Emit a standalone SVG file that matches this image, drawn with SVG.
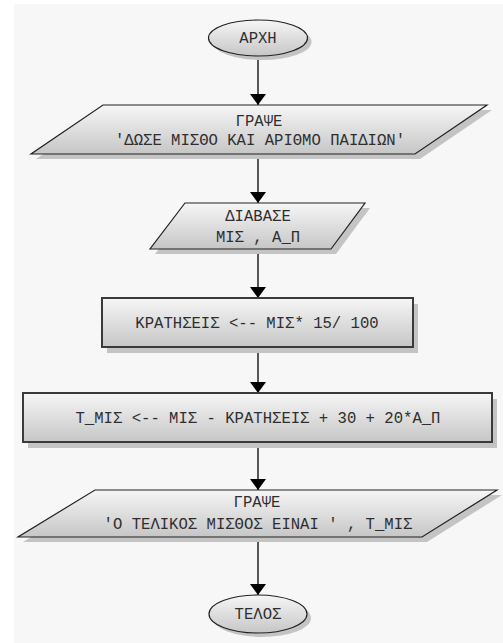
<svg xmlns="http://www.w3.org/2000/svg" width="503" height="643" viewBox="0 0 503 643">
<defs>
<linearGradient id="g" x1="0" y1="0" x2="0" y2="1">
<stop offset="0" stop-color="#f6f6f6"/>
<stop offset="1" stop-color="#c6c6c6"/>
</linearGradient>
<marker id="ah" markerUnits="userSpaceOnUse" markerWidth="16" markerHeight="12" viewBox="0 0 16 12" refX="8" refY="11" orient="0">
<path d="M0,0 L16,0 L8,11 Z" fill="#000"/>
</marker>
</defs>
<style>
.sh{fill:#c4c4c4}
.sh2{fill:#c4c4c4}
.box{fill:url(#g);stroke:#3a3a3a;stroke-width:2}
.par{fill:url(#g);stroke:#222;stroke-width:1.2}
.ell{fill:url(#g);stroke:#222;stroke-width:1.2}
.t{font-family:"Liberation Mono","DejaVu Sans Mono",monospace;font-size:15.6px;fill:#2e2e2e;text-anchor:middle}
.c{stroke:#222;stroke-width:1.5;fill:none;marker-end:url(#ah)}
</style>
<rect x="0" y="0" width="503" height="643" fill="#ffffff"/>
<rect x="14" y="4" width="489" height="639" fill="#f7f7f7"/>

<g id="connectors">
<line class="c" x1="258" y1="56" x2="258" y2="105"/>
<line class="c" x1="258" y1="154" x2="258" y2="203"/>
<line class="c" x1="258" y1="249" x2="258" y2="298"/>
<line class="c" x1="258" y1="347" x2="258" y2="393"/>
<line class="c" x1="258" y1="442" x2="258" y2="490"/>
<line class="c" x1="258" y1="537" x2="258" y2="595"/>
</g>

<g id="start">
<ellipse class="sh" cx="262" cy="42" rx="49.5" ry="18"/>
<ellipse class="ell" cx="258" cy="38" rx="49.5" ry="18"/>
<text class="t" x="258" y="43">ΑΡΧΗ</text>
</g>

<g id="write1">
<polygon class="sh" points="108,110 492,110 420,159 36,159"/>
<polygon class="par" points="103,105 487,105 415,154 31,154"/>
<text class="t" x="259" y="126">ΓΡΑΨΕ</text>
<text class="t" x="260" y="145">'ΔΩΣΕ ΜΙΣΘΟ ΚΑΙ ΑΡΙΘΜΟ ΠΑΙΔΙΩΝ'</text>
</g>

<g id="read">
<polygon class="sh" points="190,208 370,208 336,254 155,254"/>
<polygon class="par" points="185,203 365,203 331,249 150,249"/>
<text class="t" x="258" y="221">ΔΙΑΒΑΣΕ</text>
<text class="t" x="258" y="242">ΜΙΣ , Α_Π</text>
</g>

<g id="assign1">
<rect class="sh" x="107" y="304" width="311" height="49"/>
<rect class="box" x="102" y="298" width="311" height="49"/>
<text class="t" x="257" y="328">ΚΡΑΤΗΣΕΙΣ &lt;-- ΜΙΣ* 15/ 100</text>
</g>

<g id="assign2">
<rect class="sh" x="28" y="399" width="469" height="49"/>
<rect class="box" x="23" y="393" width="469" height="49"/>
<text class="t" x="258" y="423">Τ_ΜΙΣ &lt;-- ΜΙΣ - ΚΡΑΤΗΣΕΙΣ + 30 + 20*Α_Π</text>
</g>

<g id="write2">
<polygon class="sh" points="100,495 502,495 427,542 23,542"/>
<polygon class="par" points="95,490 497,490 422,537 18,537"/>
<text class="t" x="257" y="507">ΓΡΑΨΕ</text>
<text class="t" x="258" y="529">'Ο ΤΕΛΙΚΟΣ ΜΙΣΘΟΣ ΕΙΝΑΙ ' , Τ_ΜΙΣ</text>
</g>

<g id="end">
<ellipse class="sh" cx="262" cy="618" rx="49" ry="19"/>
<ellipse class="ell" cx="258" cy="614" rx="49" ry="19"/>
<text class="t" x="258" y="619">ΤΕΛΟΣ</text>
</g>
</svg>
